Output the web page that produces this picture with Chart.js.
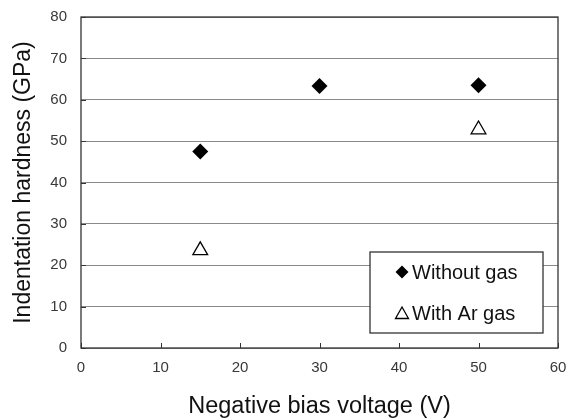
<!DOCTYPE html>
<html>
<head>
<meta charset="utf-8">
<script src="https://cdn.jsdelivr.net/npm/chart.js@4"></script>
<style>
  html, body { margin: 0; padding: 0; background: #fff; }
  #wrap { width: 568px; height: 419px; }
</style>
</head>
<body>
<div id="wrap"><canvas id="chart" width="568" height="419"></canvas></div>
<script>
// data
const voltWithout = [15, 30, 50];
const hardWithout = [47.5, 63.3, 63.5];
const voltAr = [15, 50];
const hardAr = [23.6, 52.8];
const seriesNames = ['Without gas', 'With Ar gas'];

const AXIS = '#333333';
const TEXT = '#383838';
const GRID = '#8a8a8a';
const FONT = '"Liberation Sans", Arial, sans-serif';

function toPoints(xs, ys) {
    return xs.map((x, i) => ({ x: x, y: ys[i] }));
}

// box around the plot, small inner tick marks, and the legend inside the plot
const framePlugin = {
    id: 'frame',
    afterDraw(chart) {
        const ctx = chart.ctx;
        const a = chart.chartArea;
        const xs = chart.scales.x, ys = chart.scales.y;
        ctx.save();
        ctx.strokeStyle = AXIS;
        ctx.lineWidth = 1.3;
        ctx.strokeRect(a.left, a.top, a.right - a.left, a.bottom - a.top);

        ctx.lineWidth = 1;
        ctx.beginPath();
        xs.ticks.forEach(t => {
            const px = Math.round(xs.getPixelForValue(t.value)) + 0.5;
            ctx.moveTo(px, a.bottom);
            ctx.lineTo(px, a.bottom - 5);
        });
        ys.ticks.forEach(t => {
            const py = Math.round(ys.getPixelForValue(t.value)) + 0.5;
            ctx.moveTo(a.left, py);
            ctx.lineTo(a.left + 5, py);
        });
        ctx.stroke();

        // legend box
        const bx = 370, by = 252, bw = 173, bh = 81;
        ctx.fillStyle = '#fff';
        ctx.fillRect(bx, by, bw, bh);
        ctx.lineWidth = 1.3;
        ctx.strokeStyle = AXIS;
        ctx.strokeRect(bx, by, bw, bh);

        const mx = 402;
        const rows = [272, 313];
        // diamond
        ctx.fillStyle = '#000';
        ctx.beginPath();
        ctx.moveTo(mx, rows[0] - 6.5);
        ctx.lineTo(mx + 6.5, rows[0]);
        ctx.lineTo(mx, rows[0] + 6.5);
        ctx.lineTo(mx - 6.5, rows[0]);
        ctx.closePath();
        ctx.fill();
        // triangle
        ctx.strokeStyle = '#000';
        ctx.lineWidth = 1.3;
        ctx.beginPath();
        ctx.moveTo(mx, rows[1] - 6);
        ctx.lineTo(mx + 6.5, rows[1] + 5.5);
        ctx.lineTo(mx - 6.5, rows[1] + 5.5);
        ctx.closePath();
        ctx.stroke();

        ctx.fillStyle = '#111';
        ctx.font = '20px ' + FONT;
        ctx.textAlign = 'left';
        ctx.textBaseline = 'middle';
        ctx.fillText(seriesNames[0], 412, rows[0] + 1);
        ctx.fillText(seriesNames[1], 412, rows[1] + 1);
        ctx.restore();
    }
};

new Chart(document.getElementById('chart'), {
    type: 'scatter',
    data: {
        datasets: [
            {
                label: seriesNames[0],
                data: toPoints(voltWithout, hardWithout),
                pointStyle: 'rectRot',
                pointRadius: 8,
                backgroundColor: '#000',
                borderColor: '#000',
                borderWidth: 0
            },
            {
                label: seriesNames[1],
                data: toPoints(voltAr, hardAr),
                pointStyle: 'triangle',
                pointRadius: 8.5,
                backgroundColor: '#fff',
                borderColor: '#000',
                borderWidth: 1.3
            }
        ]
    },
    options: {
        responsive: false,
        animation: false,
        layout: { padding: { top: 17, right: 10, left: 0, bottom: 0 } },
        plugins: {
            legend: { display: false },
            tooltip: { enabled: false }
        },
        scales: {
            x: {
                type: 'linear',
                min: 0, max: 60,
                grid: { display: false, drawTicks: false },
                border: { display: false },
                ticks: {
                    stepSize: 10, padding: 11, color: TEXT,
                    font: { family: FONT, size: 15 }
                },
                title: {
                    display: true,
                    text: 'Negative bias voltage (V)',
                    color: '#111',
                    padding: { top: 0, bottom: -2 },
                    font: { family: FONT, size: 23.5 }
                },
                afterFit(scale) {
                    scale.height = 71;
                    scale.paddingLeft = 0;
                    scale.paddingRight = 0;
                }
            },
            y: {
                min: 0, max: 80,
                grid: { color: GRID, lineWidth: 1, drawTicks: false },
                border: { display: false },
                ticks: {
                    stepSize: 10, padding: 14, color: TEXT,
                    font: { family: FONT, size: 15 }
                },
                title: {
                    display: true,
                    text: 'Indentation hardness (GPa)',
                    color: '#111',
                    padding: { top: 10, bottom: 0 },
                    font: { family: FONT, size: 23 }
                },
                afterFit(scale) {
                    scale.width = 81;
                    scale.paddingTop = 0;
                    scale.paddingBottom = 0;
                }
            }
        }
    },
    plugins: [framePlugin]
});
</script>
</body>
</html>
